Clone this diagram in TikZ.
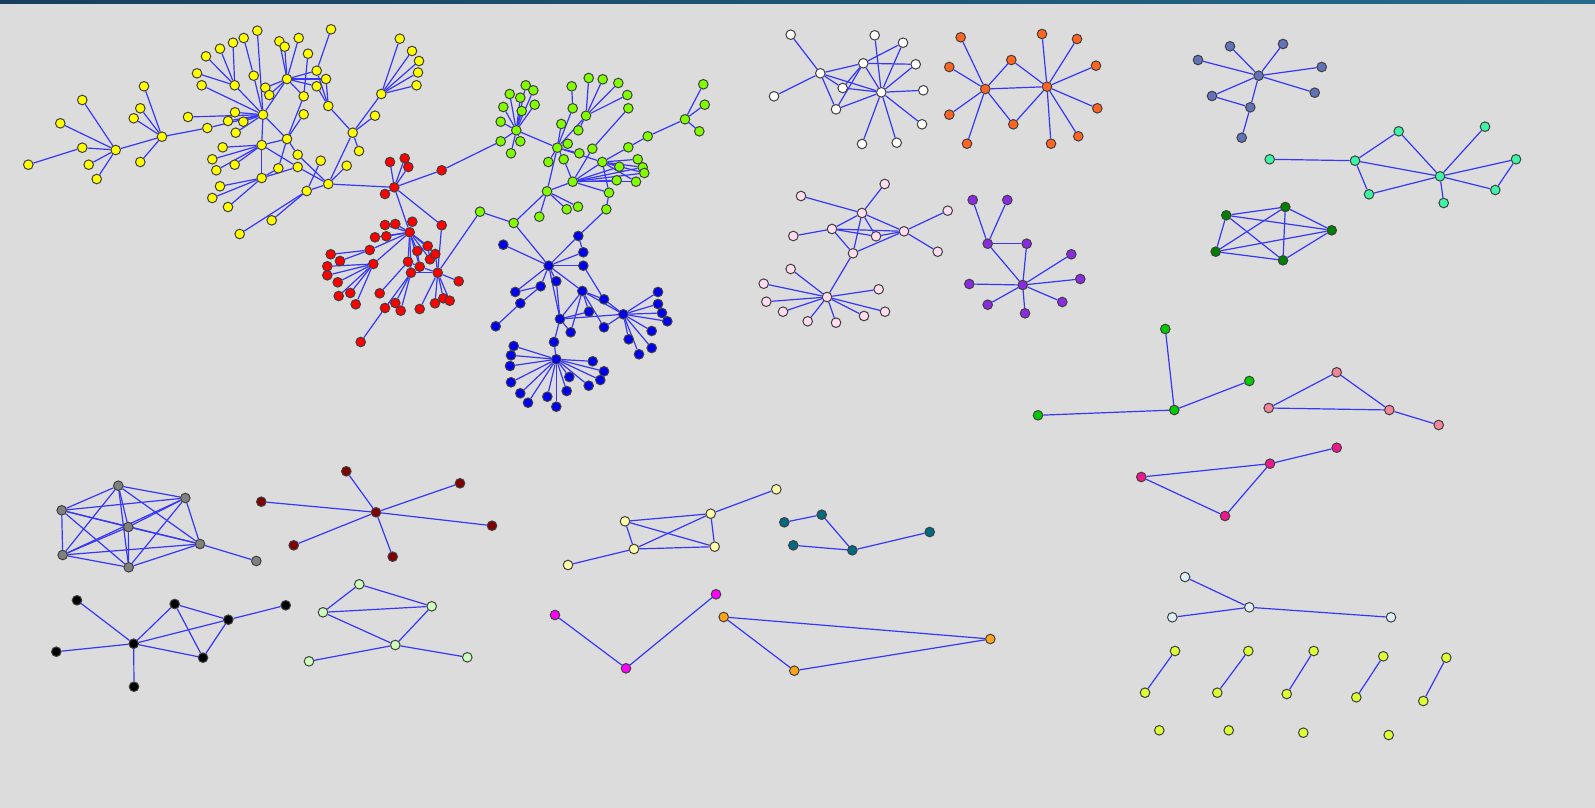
\documentclass[tikz,border=0pt]{standalone}
\pgfdeclarelayer{edgelayer}
\pgfsetlayers{edgelayer,main}
\definecolor{bgc}{HTML}{DCDCDC}
\definecolor{edgec}{RGB}{55,55,250}
\definecolor{barL}{HTML}{173F5C}
\definecolor{barR}{HTML}{256A8C}
\definecolor{cyel}{HTML}{FFFF00}
\definecolor{cred}{HTML}{FF0000}
\definecolor{clim}{HTML}{80FF00}
\definecolor{cblu}{HTML}{0000EE}
\definecolor{cwht}{HTML}{FFFFFF}
\definecolor{corg}{HTML}{FF6420}
\definecolor{cpnk}{HTML}{FFDDEE}
\definecolor{cprp}{HTML}{8A2BE2}
\definecolor{cslt}{HTML}{6272B8}
\definecolor{caqu}{HTML}{3CF5A5}
\definecolor{cdgr}{HTML}{008000}
\definecolor{cgrn}{HTML}{00CC00}
\definecolor{csal}{HTML}{F28599}
\definecolor{cdpk}{HTML}{F0188C}
\definecolor{cgry}{HTML}{808080}
\definecolor{cdrd}{HTML}{800000}
\definecolor{cblk}{HTML}{000000}
\definecolor{cplg}{HTML}{CCFFBB}
\definecolor{clyl}{HTML}{FFFFAA}
\definecolor{ctel}{HTML}{006A80}
\definecolor{cmag}{HTML}{FF00FF}
\definecolor{cor2}{HTML}{FFA31A}
\definecolor{clbl}{HTML}{DDF0FA}
\definecolor{cygr}{HTML}{DDFF33}
\tikzset{
  vtx/.style={circle, draw=black!75, line width=0.5pt, inner sep=0pt, minimum size=4.8pt},
  edge/.style={draw=edgec, line width=0.6pt}
}
\begin{document}
\begin{tikzpicture}[x=0.5pt,y=-0.5pt]
\useasboundingbox (0,0) rectangle (1595,808);
\begin{pgfonlayer}{edgelayer}
\fill[bgc] (0,0) rectangle (1595,808);
\shade[left color=barL, right color=barR] (0,0) rectangle (1595,4);
\end{pgfonlayer}
% yellow
\foreach \n/\x/\y in {ya/115.7/150, yb/162/136.7, yc/263/114.7, yd/234.7/85.3, ye/287/79, yf/287/139, yg/261.7/145, yh/261.7/178, yi/328.3/184, yj/352.7/132.7, yk/381.3/94,
 y1/28.3/164.7, y2/82.3/147.7, y3/60.3/123.3, y4/82.3/100, y5/88.7/164.7, y6/96.7/179,
 y7/144/86.3, y8/140.3/108.3, y9/133.7/118.3, y10/140.3/162,
 y11/207.3/128, y12/188/117, y13/235/112.3, y14/228/121, y15/243.3/121.7, y16/235.7/132.7,
 y17/197/73.3, y18/201.7/85.3, y19/206/56.3, y20/220/48.7, y21/233/42.7, y22/243.7/38, y23/257.3/30.7,
 y24/253.7/75.7, y25/265.3/87.7, y26/269.3/95,
 y27/279.3/41.3, y28/284.7/46.7, y29/298.7/38, y30/308/53.7, y31/316.7/70.7, y32/326/79, y33/316.7/86.3, y34/303.7/96.3, y35/328.3/106, y36/331/29.3, y37/303.7/114.3,
 y38/222.7/147.3, y39/212.3/159.3, y40/216.3/170.3, y41/234.7/164.7,
 y42/297.7/154.7, y43/278.3/168.3, y44/297.7/167, y45/320.7/160.7,
 y46/220/186.3, y47/212.3/198, y48/228/207, y49/306.7/191, y50/271.7/220.3, y51/239.7/234,
 y52/359/151, y53/346.7/165.7, y54/375/115.7,
 y55/399.8/38.7, y56/412/51, y57/419/61, y58/418/72.5, y59/416.5/85.3}
 \node[vtx,fill=cyel] (\n) at (\x,\y) {};
% red
\foreach \n/\x/\y in {rh1/394.3/187.3, r1/385/194, r2/390/162, r3/404.7/158.3, r4/408.3/167, r5/441.7/170.3, r6/441.7/225.3,
 rh2/409.7/232.3, r7/385/225, r8/395.3/224, r9/412.3/221.7, r10/386.3/236.3, r11/375/237.3, rh4/369.7/250,
 r13/330.7/254.3, r14/340/261, r15/327.3/266.3, r16/327.3/275.3, rh5/373.3/264, r17/337.7/282.3, r18/350.3/293,
 r19/338.7/296, r20/355.7/304.3, r21/379.7/293.3, r22/385/308, r23/395.3/303, r24/400.7/310.7, r25/419.7/309,
 r26/435/303.3, r27/443.3/298.3, r28/449.7/300.7, r29/458.7/281.3, rh3/437.7/272.7, r30/411/272.7, r31/408/261.7,
 r32/419.7/266.7, r33/430/259.3, r34/435.3/254, r35/417.3/251, r36/427.7/246, r37/360.7/342}
 \node[vtx,fill=cred] (\n) at (\x,\y) {};
% lime green
\foreach \n/\x/\y in {g1/500.7/141.3, gh1/516.3/130.3, g2/509.7/94, g3/525.7/85.3, g4/533.3/90.3, g5/520.3/97.7, g6/503.3/107,
 g7/521.7/111, g8/534.7/104.7, g9/500.7/121.7, g10/520.3/141.3, g11/511/153.3, gh2/557.3/147.7,
 g12/571.7/86.3, g13/588.7/78, g14/602.7/79.3, g15/618.3/83, g16/627.3/95, g17/628.3/108.3, g18/572.7/108.3, gh3/586/115.7,
 g19/561.3/124, g20/578.3/130.3, g21/567.7/143.7, g22/579.3/153.3, g23/592.3/148.7, g24/548.3/162, g25/563.7/159.3,
 gh4/602.3/162, g26/628.3/147.3, g27/647.7/136.3, gh5/685/119.3, g28/703.3/84.3, g29/704.7/104.7, g30/699.3/131.3,
 g31/637.7/159.3, g32/619.3/166.7, g33/642.7/167.3, g34/644.3/173, g35/616.7/180.3, g36/636/181.7, gh6/572.7/181.7,
 g37/609/192.7, gh7/547/191.3, g38/566.7/209.3, g39/578/206.7, g40/539.3/216.7, g41/606.3/209.3, gh8/513.7/223, g42/480/211.7}
 \node[vtx,fill=clim] (\n) at (\x,\y) {};
% blue
\foreach \n/\x/\y in {bh1/548.7/265.7, b1/503.3/244.7, b2/578.3/236, b3/583.3/252.3, b4/583.3/265.7, b5/515.3/292, b6/520.3/303.3,
 b7/495.7/326.3, b8/540.7/286.3, b9/556.3/281.3, bh2/582.3/291, b10/604/299.3, b11/589/311.7, b12/604/327.3, b13/570.7/332.3,
 bh3/560/319, bh5/623.3/314.3, b14/658/292, b15/658/304, b16/662/313, b17/667.3/321.3, b18/651.7/331, b19/651.7/348,
 b20/628.7/339.3, b21/639/354.3, b22/554/342, bh4/556.3/359.3, b23/513.7/346, b24/511/355.3, b25/510/366, b26/511/382.3,
 b27/520.3/393.3, b28/528/402.7, b29/547.3/396.7, b30/556.3/406.7, b31/566.7/391, b32/569.3/377, b33/588.7/385.7,
 b34/600.3/380, b35/604/371.3, b36/592.7/361.3}
 \node[vtx,fill=cblu] (\n) at (\x,\y) {};
% white
\foreach \n/\x/\y in {w1/790.7/34.7, w2/774/96.3, wh1/820.3/73.3, w3/863.3/63.3, w4/842.7/88, w5/836/109.3, wh2/881.3/92.3,
 w6/874.7/35.3, w7/903/42.7, w8/915.7/64.3, w9/923.3/90.3, w10/922/124.3, w11/896.7/142.7, w12/862/144}
 \node[vtx,fill=cwht] (\n) at (\x,\y) {};
% orange
\foreach \n/\x/\y in {o1/960.7/37.3, o2/949.3/67, o3/949.3/114.7, o4/967/143.7, oh1/985.3/89, o5/1011.3/60, o6/1013.3/124.3,
 oh2/1047/86.7, o7/1042/34, o8/1077/39, o9/1096/65.7, o10/1097.3/108.3, o11/1078.3/136.3, o12/1051/143.7}
 \node[vtx,fill=corg] (\n) at (\x,\y) {};
% pink
\foreach \n/\x/\y in {p1/884.7/184, p2/801/196, ph1/862/213, p3/947.7/210.7, p4/832/229, p5/793.3/236, p6/876/236.3,
 ph2/904/231.3, p7/937.7/251.7, p8/853/253.3, p9/790.7/269, p10/763.7/283.7, ph3/827/297, p11/878.7/289.3,
 p12/766.3/301.7, p13/783/311.7, p14/807.7/321.3, p15/836/322.7, p16/864/316, p17/885/311.7}
 \node[vtx,fill=cpnk] (\n) at (\x,\y) {};
% purple
\foreach \n/\x/\y in {u1/972.7/200, u2/1007.3/200, u3/987.7/243.7, u4/1026.7/243.7, u5/969.3/284, uh/1022.7/285,
 u6/1071.3/254.3, u7/1080.3/279, u8/1062.3/302, u9/1025/313.3, u10/987.7/304.7}
 \node[vtx,fill=cprp] (\n) at (\x,\y) {};
% slate
\foreach \n/\x/\y in {s1/1230/46.3, s2/1283/44, s3/1198/60, s4/1321.7/67, sh/1258.7/75.7, s5/1314.7/92.7, s6/1212/96,
 s7/1250.3/107.3, s8/1241.7/137.7}
 \node[vtx,fill=cslt] (\n) at (\x,\y) {};
% aqua
\foreach \n/\x/\y in {a1/1269.7/159.3, a2/1355/160.7, a3/1398.7/131.3, a4/1369/194.3, ah/1440/176.3, a5/1485/126.7,
 a6/1516/159.3, a7/1495.3/190, a8/1443.7/203}
 \node[vtx,fill=caqu] (\n) at (\x,\y) {};
% dark green
\foreach \n/\x/\y in {k1/1226.3/215.3, k2/1285.3/207, k3/1331.7/230.3, k4/1215.7/251.7, k5/1283/260.3}
 \node[vtx,fill=cdgr] (\n) at (\x,\y) {};
% green
\foreach \n/\x/\y in {n1/1165.3/329, n2/1249.3/381, n3/1038/415.3, nh/1174.3/410}
 \node[vtx,fill=cgrn] (\n) at (\x,\y) {};
% salmon
\foreach \n/\x/\y in {c1/1336.7/372.3, c2/1268.7/408, c3/1389.3/410, c4/1438.7/425}
 \node[vtx,fill=csal] (\n) at (\x,\y) {};
% deep pink
\foreach \n/\x/\y in {d1/1336.7/447.7, d2/1270/463.7, d3/1141.3/477, d4/1225/516}
 \node[vtx,fill=cdpk] (\n) at (\x,\y) {};
% gray
\foreach \n/\x/\y in {e1/118.3/485.7, e2/185.3/498, e3/61.7/510.3, e4/128.3/527, e5/200/544, e6/62.7/555, e7/128.7/567.3, e8/256.3/561}
 \node[vtx,fill=cgry] (\n) at (\x,\y) {};
% dark red
\foreach \n/\x/\y in {m1/346.3/471.3, m2/460/483.3, m3/261.3/501.7, mh/376/512.3, m4/492/525.7, m5/293.7/545.3, m6/392.7/556.7}
 \node[vtx,fill=cdrd] (\n) at (\x,\y) {};
% black
\foreach \n/\x/\y in {x1/77/600.3, x2/174.7/604, x3/285.7/605.3, x4/228.3/619.7, xh/133.7/643.7, x5/56.3/651.7, x6/203/657.7, x7/134/686.7}
 \node[vtx,fill=cblk] (\n) at (\x,\y) {};
% pale green
\foreach \n/\x/\y in {q1/359.3/584.3, q2/323/612.3, q3/431.7/606.3, q4/395.3/645, q5/309/661.3, q6/467.3/657.3}
 \node[vtx,fill=cplg] (\n) at (\x,\y) {};
% light yellow
\foreach \n/\x/\y in {l1/776.3/489.3, l2/710.7/513.7, l3/625/521.3, l4/634/549, l5/714.7/546.7, l6/568/565}
 \node[vtx,fill=clyl] (\n) at (\x,\y) {};
% teal
\foreach \n/\x/\y in {t1/784.3/522.3, t2/821.7/514.7, t3/793.3/545.3, t4/852.3/550.3, t5/929.7/532}
 \node[vtx,fill=ctel] (\n) at (\x,\y) {};
% magenta
\foreach \n/\x/\y in {f1/555/615, f2/716/594.3, f3/626/668.3}
 \node[vtx,fill=cmag] (\n) at (\x,\y) {};
% orange 2
\foreach \n/\x/\y in {h1/723.7/617, h2/990.3/639, h3/794.3/670.7}
 \node[vtx,fill=cor2] (\n) at (\x,\y) {};
% light blue
\foreach \n/\x/\y in {i1/1185/577, i2/1249.3/607.3, i3/1172.3/617.3, i4/1391/617.3}
 \node[vtx,fill=clbl] (\n) at (\x,\y) {};
% yellow-green
\foreach \n/\x/\y in {z1/1175/651, z2/1145/692.7, z3/1248.3/651, z4/1217.3/692.7, z5/1313.7/651, z6/1286.7/694,
 z7/1383.3/656.3, z8/1356.3/697.3, z9/1446.3/657.7, z10/1423.3/701, z11/1159.3/730.3, z12/1228.7/730.3, z13/1303.3/732.7, z14/1388.7/735}
 \node[vtx,fill=cygr] (\n) at (\x,\y) {};

\begin{pgfonlayer}{edgelayer}
\foreach \a/\b in {y1/y2, y2/ya, y3/ya, y4/ya, y5/ya, y6/ya, ya/yb, yb/y7, yb/y8, yb/y9, yb/y10, yb/y11, y11/yc, y12/yc,
 yc/y13, yc/y14, yc/y15, yc/y16, yd/y17, yd/y19, yd/y20, yd/y21, yd/yc, y18/yc, y22/y24, y23/yc, y24/yc, ye/yc, y25/ye,
 y26/ye, ye/y27, ye/y28, ye/y29, y30/y34, ye/y31, ye/y32, ye/y33, ye/y34, y36/y31, y34/yf, y37/yf, y35/yj, y35/y31,
 y35/y32, y35/y33, yc/yf, yc/yg, yg/y38, yg/y39, yg/y40, yg/y41, yg/yf, yf/y42, yf/y43, yh/y43, yh/y44, yh/y46, yh/y47,
 yh/y48, yg/yh, yg/y44, y42/yi, y44/yi, yi/y49, y49/y50, y49/y51, y45/y49, yi/yj, yi/y53, yj/y52, yj/yk, yj/y54, yk/y55, yk/y56,
 yk/y57, yk/y58, yk/y59, yi/rh1,
 rh1/r1, rh1/r2, rh1/r3, rh1/r4, rh1/r5, r5/g1, rh1/rh2, rh1/r6, rh2/r7, rh2/r8, rh2/r9, rh2/r10, rh2/r11, rh2/rh4,
 rh4/r13, rh4/r14, rh2/rh5, rh5/r15, rh5/r16, rh5/r17, rh5/r18, rh5/r19, rh5/r20, r21/r31, rh2/r30, rh2/r31, rh2/r32,
 rh2/r33, rh2/r34, rh2/r35, rh2/r36, r31/r32, r35/r36, r33/r34, r35/r32, r36/r33, r30/rh3, r32/rh3, r34/rh3, rh3/r6,
 rh3/r29, rh3/r26, rh3/r27, rh3/r28, rh3/r25, rh3/g42, r30/r22, r30/r23, r30/r24, r37/r22, r31/r30,
 g1/gh1, gh1/g2, gh1/g3, gh1/g4, gh1/g5, gh1/g6, gh1/g7, gh1/g8, gh1/g9, gh1/g10, gh1/g11, gh1/gh2, gh2/gh3, gh3/g13,
 gh3/g14, gh3/g15, gh3/g16, g12/g18, g18/gh2, gh2/g19, gh3/g20, gh2/g21, gh2/g22, gh2/g24, gh2/g25, gh2/gh4, g17/g23,
 g23/gh6, gh4/g31, gh4/g32, gh4/g33, gh4/g34, gh4/g36, gh4/g37, gh4/gh6, g26/gh4, g26/g27, g27/gh5, gh5/g28, gh5/g29,
 gh5/g30, gh6/g35, gh6/g36, gh6/gh7, gh6/g34, gh6/g37, gh6/g25, gh6/g32, gh6/g33, g37/g41, gh2/gh7, gh7/g38, gh7/g39, gh7/g40, gh7/gh8, gh8/g42, gh8/bh1,
 bh1/b1, bh1/b2, bh1/b3, bh1/b4, bh1/b5, bh1/b8, bh1/b9, bh1/bh2, bh1/bh3, b2/b3, b2/g41, b4/b10, b6/b8, b7/b6, b5/b8,
 bh2/b11, bh2/b12, bh2/b13, bh2/bh3, bh2/bh5, bh2/b10, bh3/b11, bh3/bh5, bh3/b22, b9/bh3, bh3/b13, bh5/b14, bh5/b15,
 bh5/b16, bh5/b17, bh5/b18, bh5/b19, bh5/b20, bh5/b21, bh5/b10, bh5/b12, b22/bh4, bh4/b23, bh4/b24, bh4/b25, bh4/b26,
 bh4/b27, bh4/b28, bh4/b29, bh4/b30, bh4/b31, bh4/b32, bh4/b33, bh4/b34, bh4/b35, bh4/b36,
 w1/wh1, w2/wh1, wh1/w3, wh1/w4, wh1/w5, wh1/wh2, w3/w5, w3/w4, w3/wh2, w3/w7, w3/w8, w4/wh2, w5/wh2, wh2/w6, wh2/w7,
 wh2/w9, wh2/w10, wh2/w11, wh2/w12, wh2/w8,
 oh1/o1, oh1/o2, oh1/o3, oh1/o4, oh1/o5, oh1/o6, oh1/oh2, oh2/o5, oh2/o6, oh2/o7, oh2/o8, oh2/o9, oh2/o10, oh2/o11, oh2/o12,
 p2/ph1, p1/ph1, ph1/p4, ph1/ph2, ph1/p8, ph1/p6, p4/p5, p4/p6, p4/ph2, p4/p8, p6/ph2, p8/ph2, ph2/p3, ph2/p7, p8/ph3,
 ph3/p9, ph3/p10, ph3/p11, ph3/p12, ph3/p13, ph3/p14, ph3/p15, ph3/p16, ph3/p17,
 u1/u3, u2/u3, u3/u4, u3/uh, u4/uh, uh/u5, uh/u6, uh/u7, uh/u8, uh/u9, uh/u10,
 sh/s1, sh/s2, sh/s3, sh/s4, sh/s5, sh/s6, sh/s7, s6/s7, s7/s8,
 a1/a2, a2/a3, a2/ah, a2/a4, a3/ah, a4/ah, ah/a5, ah/a6, ah/a7, ah/a8, a6/a7,
 nh/n1, nh/n2, nh/n3, c2/c1, c1/c3, c2/c3, c3/c4, d3/d2, d2/d1, d3/d4, d4/d2, e5/e8,
 mh/m1, mh/m2, mh/m3, mh/m4, mh/m5, mh/m6,
 xh/x1, xh/x2, xh/x4, xh/x5, xh/x6, xh/x7, x2/x4, x2/x6, x4/x6, x4/x3,
 q1/q2, q1/q3, q2/q3, q2/q4, q3/q4, q4/q5, q4/q6,
 l3/l2, l3/l4, l3/l5, l2/l4, l2/l5, l2/l1, l4/l5, l4/l6,
 t1/t2, t2/t4, t3/t4, t4/t5, f1/f3, f3/f2, h1/h2, h1/h3, h3/h2, i1/i2, i3/i2, i2/i4,
 z1/z2, z3/z4, z5/z6, z7/z8, z9/z10}
 \draw[edge] (\a) -- (\b);
\foreach \i in {1,...,7}{\foreach \j in {1,...,7}{\ifnum\i<\j \draw[edge] (e\i) -- (e\j);\fi}}
\foreach \i in {1,...,5}{\foreach \j in {1,...,5}{\ifnum\i<\j \draw[edge] (k\i) -- (k\j);\fi}}
\end{pgfonlayer}
\end{tikzpicture}
\end{document}
